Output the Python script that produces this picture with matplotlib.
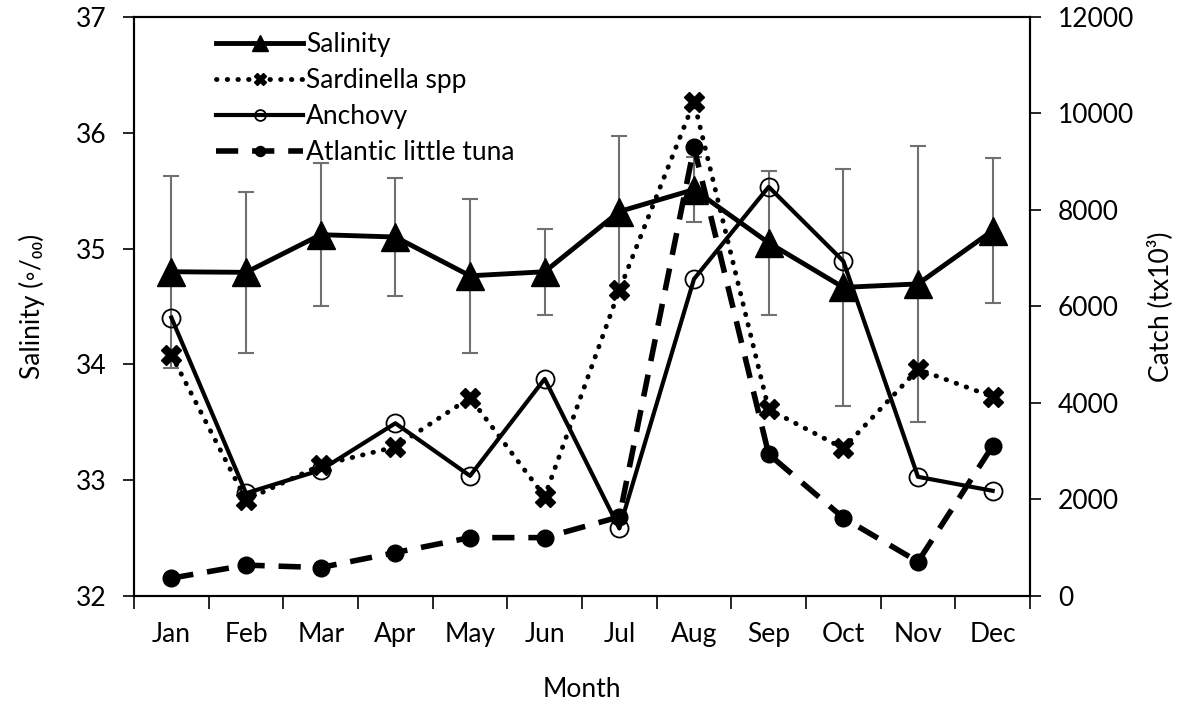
import numpy as np
import matplotlib.pyplot as plt

plt.rcParams['font.family'] = ['Lato', 'DejaVu Sans']

# Monthly salinity (mean and SD) and catch per species
months = ['Jan', 'Feb', 'Mar', 'Apr', 'May', 'Jun', 'Jul', 'Aug', 'Sep', 'Oct', 'Nov', 'Dec']
salinity = [34.80, 34.795, 35.12, 35.10, 34.765, 34.80, 35.32, 35.51, 35.05, 34.665, 34.695, 35.155]
salinity_sd = [0.83, 0.695, 0.615, 0.51, 0.665, 0.37, 0.65, 0.28, 0.62, 1.025, 1.195, 0.625]
sardinella = [5000, 1990, 2710, 3090, 4110, 2060, 6340, 10240, 3870, 3060, 4700, 4130]
anchovy = [5770, 2130, 2610, 3580, 2490, 4500, 1400, 6570, 8480, 6940, 2470, 2180]
tuna = [370, 640, 590, 900, 1210, 1210, 1640, 9300, 2940, 1620, 710, 3110]

x = np.arange(1, len(months) + 1)
fs = 19

fig, ax = plt.subplots(figsize=(11.82, 7.02), dpi=100)
fig.subplots_adjust(left=0.1134, right=0.8714, top=0.9758, bottom=0.151)

# salinity with error bars on the left axis
ax.errorbar(x, salinity, yerr=salinity_sd, fmt='none', ecolor='#707070',
            elinewidth=1.5, capsize=6, capthick=1.5, zorder=1)
l1, = ax.plot(x, salinity, color='black', lw=3.5, marker='^', markersize=20,
              label='Salinity', zorder=2)

ax.set_xlim(0.5, 12.5)
ax.set_ylim(32, 37)
ax.set_yticks([32, 33, 34, 35, 36, 37])
ax.set_xticks(np.arange(0.5, 13, 1))
ax.set_xticklabels([])
ax.set_xticks(x, minor=True)
ax.set_xticklabels(months, minor=True)
ax.tick_params(axis='x', which='major', length=9, width=1.2, direction='out')
ax.tick_params(axis='x', which='minor', length=0, pad=19, labelsize=fs)
ax.tick_params(axis='y', length=8, width=1.2, labelsize=fs, pad=12)
ax.set_xlabel('Month', fontsize=fs, labelpad=21)
ax.set_ylabel('Salinity (◦/₀₀)', fontsize=fs, labelpad=22)
for s in ax.spines.values():
    s.set_linewidth(1.5)

# catch series on the right axis
ax2 = ax.twinx()
l2, = ax2.plot(x, sardinella, color='black', lw=3.5, linestyle=(0, (0.1, 2.1)),
               dash_capstyle='round', marker='X', markersize=15,
               label='Sardinella spp')
l3, = ax2.plot(x, anchovy, color='black', lw=3, marker='o', markersize=13,
               markerfacecolor='none', markeredgewidth=1.3, label='Anchovy')
l4, = ax2.plot(x, tuna, color='black', lw=4, linestyle=(0, (4, 2.5)),
               marker='o', markersize=12, label='Atlantic little tuna')
ax2.set_ylim(0, 12000)
ax2.set_yticks(range(0, 12001, 2000))
ax2.tick_params(axis='y', length=8, width=1.2, labelsize=fs, pad=12)
ax2.set_ylabel('Catch (tx10³)', fontsize=fs, labelpad=9)
for s in ax2.spines.values():
    s.set_linewidth(1.5)

ax.legend(handles=[l1, l2, l3, l4], loc='upper left', bbox_to_anchor=(0.065, 1.015),
          frameon=False, fontsize=fs, handlelength=3.3, handletextpad=0.1,
          labelspacing=0.42, markerscale=0.6)

plt.savefig('out.png')
